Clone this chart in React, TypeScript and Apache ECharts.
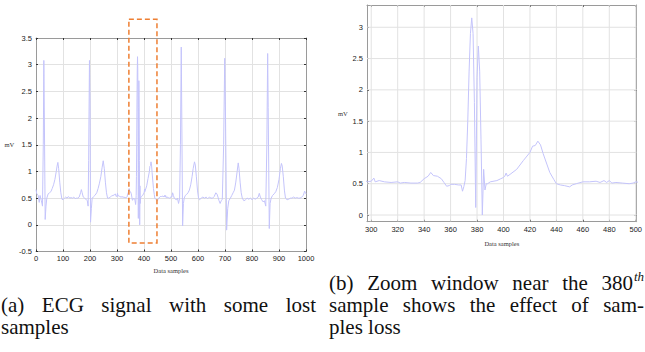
import React, { useEffect, useRef } from "react";
import * as echarts from "echarts";

// ---- Data ----
const xTicksFull = [0, 100, 200, 300, 400, 500, 600, 700, 800, 900, 1000];
const yTicksFull = [-0.5, 0, 0.5, 1, 1.5, 2, 2.5, 3, 3.5];
const xTicksZoom = [300, 320, 340, 360, 380, 400, 420, 440, 460, 480, 500];
const yTicksZoom = [0, 0.5, 1, 1.5, 2, 2.5, 3];

// ECG signal (sample index, mV)
const segBefore: number[][] = [
  [0, 0.66], [3, 0.58], [8, 0.55], [12, 0.42], [15, 0.55], [20, 0.45], [24, 0.35], [27, 1.5], [29, 3.08], [31, 2.0],
  [34, 0.1], [37, 0.35], [40, 0.5], [45, 0.58], [50, 0.6], [55, 0.62], [60, 0.68], [65, 0.75], [70, 0.85], [75, 1.0],
  [78, 1.1], [81, 1.17], [84, 1.05], [88, 0.8], [92, 0.6], [96, 0.48], [100, 0.47], [105, 0.5], [110, 0.52], [115, 0.5],
  [120, 0.53], [125, 0.5], [130, 0.51], [135, 0.5], [140, 0.52], [145, 0.49], [150, 0.5], [155, 0.5], [160, 0.52], [165, 0.6],
  [168, 0.66], [171, 0.6], [175, 0.52], [180, 0.5], [185, 0.48], [190, 0.45], [193, 0.35], [195, 1.2], [198, 3.08], [200, 2.3],
  [202, 0.05], [205, 0.3], [208, 0.5], [212, 0.52], [218, 0.55], [225, 0.6], [230, 0.68], [235, 0.78], [240, 0.9], [245, 1.08],
  [249, 1.2], [253, 1.05], [257, 0.8], [261, 0.6], [265, 0.5], [270, 0.5], [275, 0.52], [280, 0.54], [285, 0.55], [290, 0.56],
  [294, 0.58], [297, 0.53],
];
const segZoom: number[][] = [
  [300, 0.54], [302, 0.59], [303, 0.53], [306, 0.55], [310, 0.53], [315, 0.52], [320, 0.53], [322, 0.51], [325, 0.52], [330, 0.51],
  [335, 0.51], [337, 0.52], [340, 0.58], [343, 0.62], [345, 0.68], [347, 0.63], [350, 0.62], [353, 0.58], [355, 0.52], [357, 0.46],
  [359, 0.47], [360, 0.49], [363, 0.49], [366, 0.48], [368, 0.48], [369, 0.38], [370, 0.45], [371, 0.55], [372, 0.9], [373, 1.5],
  [374, 2.3], [375, 2.9], [376, 3.15], [377, 2.9], [378, 1.8], [379, 0.12], [380, 2.2], [381, 2.7], [382, 2.3], [383, 1.2],
  [384, 0.0], [385, 0.73], [386, 0.4], [387, 0.5], [388, 0.5], [390, 0.53], [395, 0.55], [398, 0.58], [400, 0.6], [401, 0.62],
  [402, 0.67], [403, 0.62], [405, 0.65], [410, 0.73], [415, 0.87], [420, 1.0], [422, 1.1], [424, 1.11], [426, 1.18], [428, 1.12],
  [430, 0.98], [433, 0.8], [435, 0.68], [438, 0.57], [440, 0.5], [443, 0.48], [446, 0.47], [450, 0.45], [452, 0.48], [455, 0.5],
  [460, 0.53], [465, 0.53], [470, 0.54], [473, 0.52], [476, 0.55], [478, 0.52], [480, 0.55], [482, 0.51], [485, 0.52], [490, 0.51],
  [495, 0.5], [498, 0.51], [500, 0.53],
];
const segAfter: number[][] = [
  [503, 0.52], [506, 0.6], [509, 0.55], [512, 0.5], [516, 0.48], [520, 0.47], [524, 0.5], [528, 0.4], [532, 0.5], [535, 1.5],
  [538, 3.33], [540, 2.0], [543, -0.02], [546, 0.4], [549, 0.5], [553, 0.55], [558, 0.57], [563, 0.6], [568, 0.65], [573, 0.75],
  [578, 0.9], [582, 1.05], [587, 1.18], [590, 1.12], [594, 0.9], [598, 0.65], [602, 0.5], [606, 0.47], [612, 0.5], [618, 0.52],
  [624, 0.5], [630, 0.52], [636, 0.49], [642, 0.52], [648, 0.5], [654, 0.5], [660, 0.53], [666, 0.6], [670, 0.58], [674, 0.52],
  [678, 0.45], [682, 0.4], [686, 0.45], [690, 0.48], [695, 1.5], [699, 3.12], [702, 2.0], [706, -0.1], [710, 0.3], [714, 0.45],
  [720, 0.5], [725, 0.55], [730, 0.6], [735, 0.65], [740, 0.8], [745, 1.0], [749, 1.16], [752, 1.05], [756, 0.8], [760, 0.6],
  [764, 0.5], [770, 0.45], [776, 0.47], [782, 0.5], [788, 0.48], [794, 0.5], [800, 0.47], [806, 0.5], [812, 0.48], [818, 0.5],
  [823, 0.52], [827, 0.59], [831, 0.52], [836, 0.47], [841, 0.43], [846, 0.45], [851, 0.35], [855, 1.5], [858, 3.21], [860, 2.2],
  [864, -0.07], [867, 0.4], [871, 0.5], [876, 0.55], [882, 0.58], [888, 0.62], [894, 0.7], [900, 0.85], [905, 1.05], [909, 1.15],
  [912, 1.1], [916, 0.9], [920, 0.65], [924, 0.5], [930, 0.47], [936, 0.48], [942, 0.5], [948, 0.5], [954, 0.52], [960, 0.5],
  [966, 0.51], [972, 0.5], [978, 0.5], [984, 0.52], [990, 0.55], [995, 0.63], [998, 0.6], [1000, 0.58],
];
const zoomWindow = { x0: 344, x1: 448, yTop: 3.85, yBottom: -0.34 };
const zoomRangeX = [296.8, 500.7];
const zoomRangeY = [-0.107, 3.356];

const captionLeft = ["(a) ECG signal with some lost", "samples"];
const captionRight = ["(b) Zoom window near the 380", "sample shows the effect of sam-", "ples loss"];
const captionSup = "th";

const signal = [...segBefore, ...segZoom, ...segAfter];

const CAP_FONT = "21px 'Liberation Serif'";
const SERIF = "'Liberation Serif', 'Times New Roman', serif";
const SANS = "'Liberation Sans', Arial, sans-serif";

function measure(text: string, font: string): number {
  const c = document.createElement("canvas").getContext("2d")!;
  c.font = font;
  return c.measureText(text).width;
}

function lineEls(line: string, x0: number, x1: number | null, y: number): any[] {
  const words = line.split(" ");
  const widths = words.map((w) => measure(w, CAP_FONT));
  const total = widths.reduce((a, b) => a + b, 0);
  const gap = x1 === null || words.length < 2 ? measure(" ", CAP_FONT) : (x1 - x0 - total) / (words.length - 1);
  let x = x0;
  return words.map((w, i) => {
    const el = {
      type: "text",
      x,
      y,
      style: { text: w, font: CAP_FONT, fill: "#111", textVerticalAlign: "middle", verticalAlign: "middle" },
    };
    x += widths[i] + gap;
    return el;
  });
}

const axisLineStyle = { color: "#9a9a9a", width: 1 };
const tickStyle = { color: "#333", width: 1 };
const labelStyle = { fontSize: 7.5, color: "#222", fontFamily: SANS, formatter: (v: number) => String(v) };
const gridColor = "#e2e2e2";
const splitStyle = { color: gridColor, width: 1 };
const nameStyle = { fontFamily: SERIF, fontSize: 6.5, color: "#333" };

export default function App() {
  const ref = useRef<HTMLDivElement>(null);
  useEffect(() => {
    if (!ref.current) return;
    const chart = echarts.init(ref.current, null, { renderer: "svg" });
    const option: any = {
      animation: false,
      backgroundColor: "#fff",
      grid: [
        { left: 36, top: 38, width: 270, height: 213.5 },
        { left: 367, top: 5, width: 277, height: 216.7 },
      ],
      xAxis: [
        {
          gridIndex: 0, type: "value", position: "bottom",
          min: xTicksFull[0], max: xTicksFull[xTicksFull.length - 1], interval: 100,
          axisLine: { show: true, onZero: false, lineStyle: axisLineStyle },
          axisTick: { show: true, inside: true, length: 2, lineStyle: tickStyle },
          axisLabel: { ...labelStyle, margin: 3 },
          splitLine: { show: true, lineStyle: splitStyle },
          name: "Data samples", nameLocation: "middle", nameGap: 15, nameTextStyle: nameStyle,
        },
        {
          gridIndex: 0, type: "value", position: "top",
          min: xTicksFull[0], max: xTicksFull[xTicksFull.length - 1], interval: 100,
          axisLine: { show: true, onZero: false, lineStyle: axisLineStyle },
          axisTick: { show: true, inside: true, length: 2, lineStyle: tickStyle },
          axisLabel: { show: false }, splitLine: { show: false },
        },
        {
          gridIndex: 1, type: "value", position: "bottom",
          min: zoomRangeX[0], max: zoomRangeX[1],
          axisLine: { show: true, onZero: false, lineStyle: axisLineStyle },
          axisTick: { show: true, inside: true, length: 2, lineStyle: tickStyle, customValues: xTicksZoom },
          axisLabel: { ...labelStyle, margin: 4, customValues: xTicksZoom },
          splitLine: { show: false },
          name: "Data samples", nameLocation: "middle", nameGap: 18, nameTextStyle: nameStyle,
        },
        {
          gridIndex: 1, type: "value", position: "top",
          min: zoomRangeX[0], max: zoomRangeX[1],
          axisLine: { show: true, onZero: false, lineStyle: axisLineStyle },
          axisTick: { show: true, inside: true, length: 2, lineStyle: tickStyle, customValues: xTicksZoom },
          axisLabel: { show: false, customValues: xTicksZoom }, splitLine: { show: false },
        },
      ],
      yAxis: [
        {
          gridIndex: 0, type: "value", position: "left",
          min: yTicksFull[0], max: yTicksFull[yTicksFull.length - 1], interval: 0.5,
          axisLine: { show: true, onZero: false, lineStyle: axisLineStyle },
          axisTick: { show: true, inside: true, length: 2, lineStyle: tickStyle },
          axisLabel: { ...labelStyle, margin: 4 },
          splitLine: { show: true, lineStyle: splitStyle },
          name: "mV", nameLocation: "middle", nameGap: 18, nameRotate: 0, nameTextStyle: nameStyle,
        },
        {
          gridIndex: 0, type: "value", position: "right",
          min: yTicksFull[0], max: yTicksFull[yTicksFull.length - 1], interval: 0.5,
          axisLine: { show: true, onZero: false, lineStyle: axisLineStyle },
          axisTick: { show: true, inside: true, length: 2, lineStyle: tickStyle },
          axisLabel: { show: false }, splitLine: { show: false },
        },
        {
          gridIndex: 1, type: "value", position: "left",
          min: zoomRangeY[0], max: zoomRangeY[1],
          axisLine: { show: true, onZero: false, lineStyle: axisLineStyle },
          axisTick: { show: true, inside: true, length: 2, lineStyle: tickStyle, customValues: yTicksZoom },
          axisLabel: { ...labelStyle, margin: 4, customValues: yTicksZoom },
          splitLine: { show: false },
          name: "mV", nameLocation: "middle", nameGap: 18, nameRotate: 0, nameTextStyle: nameStyle,
        },
        {
          gridIndex: 1, type: "value", position: "right",
          min: zoomRangeY[0], max: zoomRangeY[1],
          axisLine: { show: true, onZero: false, lineStyle: axisLineStyle },
          axisTick: { show: true, inside: true, length: 2, lineStyle: tickStyle, customValues: yTicksZoom },
          axisLabel: { show: false, customValues: yTicksZoom }, splitLine: { show: false },
        },
      ],
      series: [
        {
          type: "line", xAxisIndex: 0, yAxisIndex: 0, data: signal, showSymbol: false, clip: true, z: 3,
          lineStyle: { color: "#c4c4fb", width: 1 },
        },
        {
          type: "line", xAxisIndex: 2, yAxisIndex: 2, data: signal, showSymbol: false, clip: true, z: 3,
          lineStyle: { color: "#c4c4fb", width: 1 },
        },
      ],
    };
    chart.setOption(option);

    const toPx = (axes: number[], v: number[]) =>
      chart.convertToPixel({ xAxisIndex: axes[0], yAxisIndex: axes[1] } as any, v) as number[];

    const p1 = toPx([0, 0], [zoomWindow.x0, zoomWindow.yTop]);
    const p2 = toPx([0, 0], [zoomWindow.x1, zoomWindow.yBottom]);

    // grid lines of the zoom panel, placed through its axes
    const gTopLeft = toPx([2, 2], [zoomRangeX[0], zoomRangeY[1]]);
    const gBotRight = toPx([2, 2], [zoomRangeX[1], zoomRangeY[0]]);
    const zoomGrid: any[] = [
      ...xTicksZoom.map((v) => {
        const px = toPx([2, 2], [v, 0])[0];
        return {
          type: "line", z: 1, silent: true,
          shape: { x1: px, y1: gTopLeft[1], x2: px, y2: gBotRight[1] },
          style: { stroke: gridColor, lineWidth: 1 },
        };
      }),
      ...yTicksZoom.map((v) => {
        const py = toPx([2, 2], [300, v])[1];
        return {
          type: "line", z: 1, silent: true,
          shape: { x1: gTopLeft[0], y1: py, x2: gBotRight[0], y2: py },
          style: { stroke: gridColor, lineWidth: 1 },
        };
      }),
    ];

    const L1 = 283, L2 = 305, L3 = 327;
    const graphics: any[] = [
      ...zoomGrid,
      {
        type: "rect",
        shape: { x: p1[0], y: p1[1], width: p2[0] - p1[0], height: p2[1] - p1[1] },
        style: { fill: "none", stroke: "#ee7f33", lineWidth: 1.5, lineDash: [5, 3] },
        z: 100,
      },
      ...lineEls(captionLeft[0], 1, 316, L2),
      ...lineEls(captionLeft[1], 1, null, L3),
      ...lineEls(captionRight[0], 329, 633, L1),
      {
        type: "text", x: 634, y: L1 - 7,
        style: { text: captionSup, font: "italic 13px 'Liberation Serif'", fill: "#111", verticalAlign: "middle", textVerticalAlign: "middle" },
      },
      ...lineEls(captionRight[1], 329, 644, L2),
      ...lineEls(captionRight[2], 329, null, L3),
    ];
    chart.setOption({ graphic: graphics });
    return () => chart.dispose();
  }, []);
  return (
    <div
      ref={ref}
      style={{ position: "fixed", left: 0, top: 0, width: 645, height: 352, background: "#fff" }}
    />
  );
}
